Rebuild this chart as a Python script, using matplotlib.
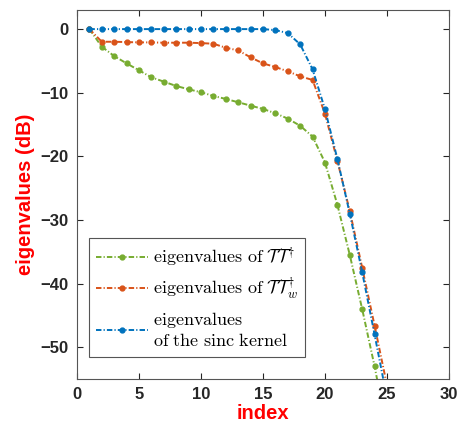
import numpy as np
import matplotlib
matplotlib.use("Agg")
import matplotlib.pyplot as plt

plt.rcParams['mathtext.fontset'] = 'cm'
plt.rcParams['font.family'] = ['Liberation Sans', 'DejaVu Sans']

# eigenvalue index
idx = np.arange(1, 26)

# eigenvalues in dB
ev_tt = [0, -2.77, -4.24, -5.39, -6.48, -7.58, -8.26, -8.94, -9.46, -9.93,
         -10.5, -10.98, -11.5, -12.03, -12.55, -13.23, -14.07, -15.2, -16.89,
         -20.97, -27.6, -35.5, -44.0, -53.0, -63.0]
ev_ttw = [0, -1.99, -1.99, -2.04, -2.09, -2.09, -2.14, -2.14, -2.14, -2.2,
          -2.3, -2.93, -3.35, -4.44, -5.39, -5.96, -6.64, -7.42, -8.0,
          -13.3, -20.7, -28.6, -37.5, -46.6, -56.0]
ev_sinc = [0, 0, 0, 0, 0, 0, 0, 0, 0, 0,
           0, 0, 0, 0, 0, -0.16, -0.63, -2.4, -6.33,
           -12.6, -20.4, -29.0, -38.2, -48.0, -58.0]

labels = [r'$\mathrm{eigenvalues\ of\ }\mathcal{T}\mathcal{T}^{\dagger}$',
          r'$\mathrm{eigenvalues\ of\ }\mathcal{T}\mathcal{T}_w^{\dagger}$',
          r'$\mathrm{eigenvalues}$' + '\n' + r'$\mathrm{of\ the\ sinc\ kernel}$']
colors = ['#77AC30', '#D95319', '#0072BD']

fig = plt.figure(figsize=(4.6, 4.26), dpi=100)
ax = fig.add_axes([0.1674, 0.1103, 0.8086, 0.8662])

for ys, c, lab in zip([ev_tt, ev_ttw, ev_sinc], colors, labels):
    ax.plot(idx, ys, linestyle='-.', dashes=(2.8, 1.1, 0.6, 1.1), color=c,
            linewidth=1.4, marker='o', markersize=3.5, label=lab)

ax.set_xlim(0, 30)
ax.set_ylim(-55, 3)
ax.set_xticks(range(0, 31, 5))
ax.set_yticks(range(-50, 1, 10))

ax.tick_params(direction='in', top=True, right=True, length=4, width=0.8,
               colors='#262626', labelsize=12, pad=6)
for lab in ax.get_xticklabels() + ax.get_yticklabels():
    lab.set_fontweight('bold')
for sp in ax.spines.values():
    sp.set_color('#555555')
    sp.set_linewidth(0.8)

ax.set_xlabel('index', color='red', fontsize=14.5, fontweight='bold', labelpad=1)
ax.set_ylabel('eigenvalues (dB)', color='red', fontsize=14.5, fontweight='bold',
              labelpad=4)

leg = ax.legend(loc='lower left', bbox_to_anchor=(0.032, 0.06), fontsize=13,
                handlelength=2.9, fancybox=False, framealpha=1,
                edgecolor='#555555', borderpad=0.4, labelspacing=0.45,
                handletextpad=0.25, borderaxespad=0)
leg.get_frame().set_linewidth(0.8)

fig.savefig('out.png', dpi=100)
